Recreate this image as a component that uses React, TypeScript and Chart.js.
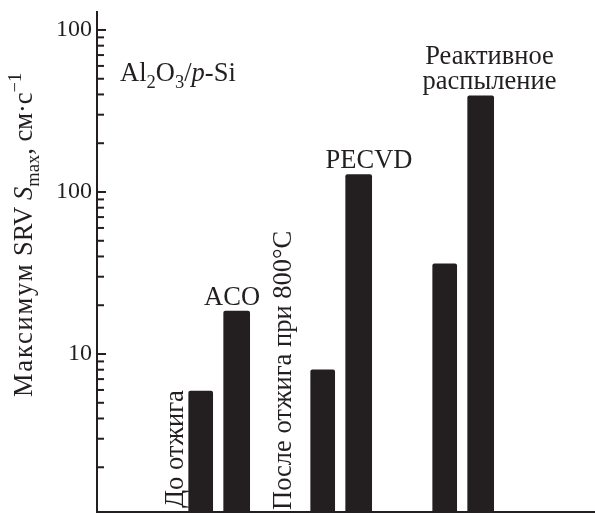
import { useEffect, useRef } from "react";
import { Chart, registerables } from "chart.js";

Chart.register(...registerables);

// ---- data ----
const categories = ["ACO", "PECVD", "Реактивное распыление"];
const seriesNames = ["До отжига", "После отжига при 800°C"];
const beforeValues = [5.9, 8.0, 36];
const afterValues = [18.4, 128, 392];
const minorTickValues = [2, 3, 4, 5, 6, 7, 8, 9, 20, 30, 40, 50, 60, 70, 80, 90, 200, 300, 400, 500, 600, 700, 800, 900];
const majorTickValues = [10, 100, 1000];
const majorTickLabels = ["10", "100", "100"];

const INK = "#231f20";
const SERIF = '"Liberation Serif", "Times New Roman", "DejaVu Serif", serif';
const TEXT_SIZE = 26.5;

type Run = { text: string; italic?: boolean; script?: "sub" | "sup"; spacing?: number };

function font(size: number, italic?: boolean) {
  return `${italic ? "italic " : ""}${size}px ${SERIF}`;
}

function setRun(ctx: CanvasRenderingContext2D, r: Run, size: number) {
  const s = r.script ? size * 0.7 : size;
  ctx.font = font(s, r.italic);
  (ctx as any).letterSpacing = `${r.spacing || 0}px`;
}

function drawRuns(ctx: CanvasRenderingContext2D, runs: Run[], x: number, y: number, size: number, align: "left" | "center" = "left") {
  let total = 0;
  for (const r of runs) {
    setRun(ctx, r, size);
    total += ctx.measureText(r.text).width;
  }
  let cx = align === "center" ? x - total / 2 : x;
  ctx.textBaseline = "alphabetic";
  ctx.textAlign = "left";
  for (const r of runs) {
    setRun(ctx, r, size);
    const dy = r.script === "sub" ? size * 0.25 : r.script === "sup" ? -size * 0.42 : 0;
    ctx.fillText(r.text, cx, y + dy);
    cx += ctx.measureText(r.text).width;
  }
  (ctx as any).letterSpacing = "0px";
}

const yTitleRuns: Run[] = [
  { text: "Максимум", spacing: 1.8 },
  { text: " SRV " },
  { text: "S", italic: true },
  { text: "max", script: "sub" },
  { text: ", см·с" },
  { text: "−1", script: "sup" },
];

const sampleRuns: Run[] = [
  { text: "Al" },
  { text: "2", script: "sub" },
  { text: "O" },
  { text: "3", script: "sub" },
  { text: "/" },
  { text: "p", italic: true },
  { text: "-Si" },
];

const annotationPlugin = {
  id: "annotations",
  afterDraw(chart: any) {
    const ctx: CanvasRenderingContext2D = chart.ctx;
    const xs = chart.scales.x;
    const ys = chart.scales.y;
    ctx.save();
    // inward tick marks on the value axis
    const axisX = xs.getPixelForValue(0);
    ctx.fillStyle = INK;
    for (const v of [...minorTickValues, ...majorTickValues]) {
      const py = ys.getPixelForValue(v);
      const len = majorTickValues.includes(v) ? 9 : 7;
      ctx.fillRect(axisX, py - 1, len, 2);
    }
    const size = TEXT_SIZE;
    // y-axis title (rotated)
    ctx.save();
    ctx.translate(32, 397);
    ctx.rotate(-Math.PI / 2);
    drawRuns(ctx, yTitleRuns, 0, 0, size);
    ctx.restore();
    // sample label
    drawRuns(ctx, sampleRuns, xs.getPixelForValue(0.189), ys.getPixelForValue(484), size);
    // group labels
    drawRuns(ctx, [{ text: categories[0] }], xs.getPixelForValue(1.107), ys.getPixelForValue(20), size, "center");
    drawRuns(ctx, [{ text: categories[1] }], xs.getPixelForValue(2.23), ys.getPixelForValue(140), size, "center");
    const words = categories[2].split(" ");
    drawRuns(ctx, [{ text: words[0] }], xs.getPixelForValue(3.217), ys.getPixelForValue(617), size, "center");
    drawRuns(ctx, [{ text: words[1] }], xs.getPixelForValue(3.217), ys.getPixelForValue(432), size, "center");
    // rotated series labels
    ctx.save();
    ctx.translate(xs.getPixelForValue(0.705), ys.getPixelForValue(1.12));
    ctx.rotate(-Math.PI / 2);
    drawRuns(ctx, [{ text: seriesNames[0] }], 0, 0, size);
    ctx.restore();
    ctx.save();
    ctx.translate(xs.getPixelForValue(1.59), ys.getPixelForValue(1.09));
    ctx.rotate(-Math.PI / 2);
    drawRuns(ctx, [{ text: seriesNames[1] }], 0, 0, size);
    ctx.restore();
    ctx.restore();
  },
};

export default function App() {
  const ref = useRef<HTMLCanvasElement | null>(null);
  useEffect(() => {
    if (!ref.current) return;
    const pairOffset = 0.15;
    const chart = new Chart(ref.current, {
      type: "bar",
      data: {
        datasets: [
          {
            label: seriesNames[0],
            data: beforeValues.map((v, i) => ({ x: i + 1 - pairOffset, y: v })),
            backgroundColor: INK,
            barThickness: 24,
            grouped: false,
            borderRadius: { topLeft: 2, topRight: 2 },
            borderSkipped: "bottom",
          } as any,
          {
            label: seriesNames[1],
            data: afterValues.map((v, i) => ({ x: i + 1 + pairOffset - 0.005, y: v })),
            backgroundColor: INK,
            barThickness: 26,
            grouped: false,
            borderRadius: { topLeft: 2, topRight: 2 },
            borderSkipped: "bottom",
          } as any,
        ],
      },
      options: {
        animation: false,
        responsive: false,
        devicePixelRatio: 1,
        layout: { padding: { left: 0, top: 12, right: 0, bottom: 2 } },
        plugins: { legend: { display: false }, tooltip: { enabled: false } },
        scales: {
          x: {
            type: "linear",
            offset: false,
            min: 0,
            max: 4.082,
            bounds: "data",
            ticks: { display: false },
            grid: { display: false, drawTicks: false, offset: false },
            border: { display: true, color: INK, width: 2 },
            afterFit: (s: any) => {
              s.height = 0;
              s.paddingLeft = 0;
              s.paddingRight = 0;
              s.paddingTop = 0;
              s.paddingBottom = 0;
            },
          } as any,
          y: {
            type: "logarithmic",
            min: 1.059,
            max: 1291,
            bounds: "data",
            grid: { display: false, drawTicks: false },
            border: { display: true, color: INK, width: 2 },
            ticks: {
              autoSkip: false,
              padding: 5,
              color: INK,
              font: { family: SERIF, size: 24 },
              callback: (value: any) => {
                const idx = majorTickValues.indexOf(Number(value));
                return idx >= 0 ? majorTickLabels[idx] : "";
              },
            },
            afterBuildTicks: (s: any) => {
              const all = [...minorTickValues, ...majorTickValues].sort((a, b) => a - b);
              s.ticks = all.map((v) => ({ value: v, major: false }));
            },
            afterFit: (s: any) => {
              s.width = 97;
              s.paddingLeft = 0;
              s.paddingRight = 0;
              s.paddingTop = 0;
              s.paddingBottom = 0;
            },
          } as any,
        },
      },
      plugins: [annotationPlugin],
    });
    return () => chart.destroy();
  }, []);
  return (
    <canvas
      ref={ref}
      width={595}
      height={514}
      style={{ position: "absolute", left: 0, top: 0, width: 595, height: 514, display: "block", background: "#fff" }}
    />
  );
}
